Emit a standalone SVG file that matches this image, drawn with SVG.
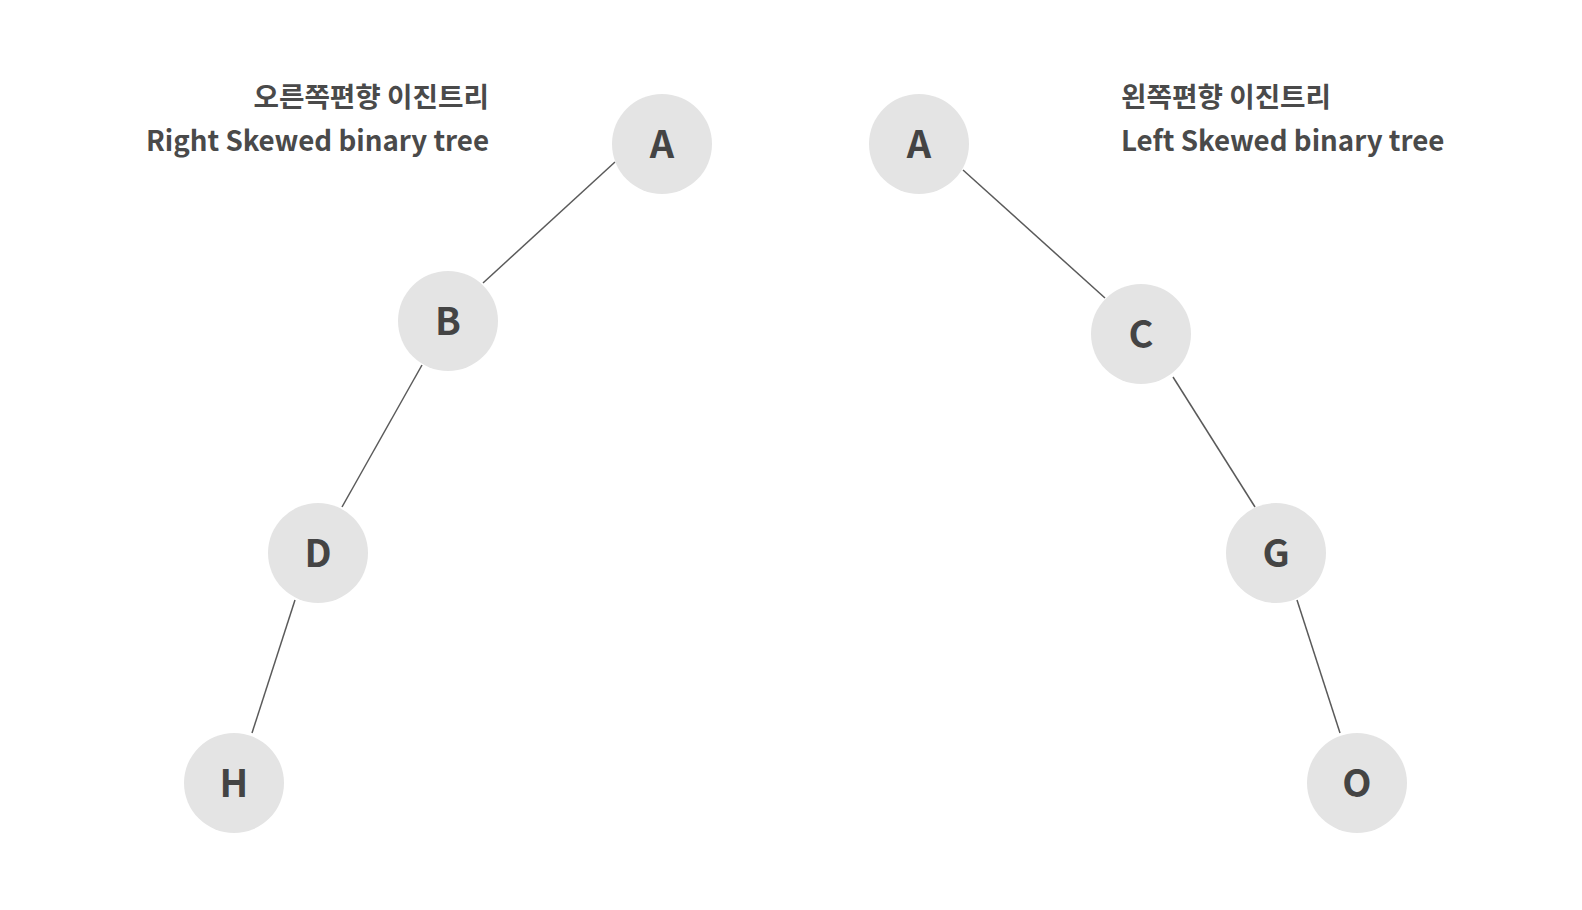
<svg xmlns="http://www.w3.org/2000/svg" width="1582" height="910" viewBox="0 0 1582 910">
<style>
.n{fill:#e4e4e4}
.t{font-family:"Noto Sans CJK KR","Noto Sans",sans-serif;font-weight:bold;fill:#444;font-size:38px;text-anchor:middle;dominant-baseline:central}
.h{font-family:"Noto Sans CJK KR","Noto Sans",sans-serif;font-weight:bold;fill:#4a4a4a;font-size:27.7px}
.e line{stroke:#5a5a5a;stroke-width:1.5}
</style>
<rect width="1582" height="910" fill="#fff"/>
<g id="titles">
<text class="h" x="489" y="107" text-anchor="end">오른쪽편향 이진트리</text>
<text class="h" x="489" y="151" text-anchor="end">Right Skewed binary tree</text>
<text class="h" x="1121" y="107">왼쪽편향 이진트리</text>
<text class="h" x="1121" y="151">Left Skewed binary tree</text>
</g>
<g id="edges" class="e">
<line x1="615" y1="162" x2="483" y2="283"/>
<line x1="422" y1="365" x2="342" y2="507"/>
<line x1="295" y1="600" x2="252" y2="733"/>
<line x1="963" y1="170" x2="1105" y2="298"/>
<line x1="1173" y1="377" x2="1255" y2="507"/>
<line x1="1297" y1="600" x2="1340" y2="733"/>
</g>
<g id="nodeA1"><circle class="n" cx="662" cy="144" r="50"/><text class="t" x="662" y="141">A</text></g>
<g id="nodeB"><circle class="n" cx="448" cy="321" r="50"/><text class="t" x="448" y="318">B</text></g>
<g id="nodeD"><circle class="n" cx="318" cy="553" r="50"/><text class="t" x="318" y="550">D</text></g>
<g id="nodeH"><circle class="n" cx="234" cy="783" r="50"/><text class="t" x="234" y="780">H</text></g>
<g id="nodeA2"><circle class="n" cx="919" cy="144" r="50"/><text class="t" x="919" y="141">A</text></g>
<g id="nodeC"><circle class="n" cx="1141" cy="334" r="50"/><text class="t" x="1141" y="331">C</text></g>
<g id="nodeG"><circle class="n" cx="1276" cy="553" r="50"/><text class="t" x="1276" y="550">G</text></g>
<g id="nodeO"><circle class="n" cx="1357" cy="783" r="50"/><text class="t" x="1357" y="780">O</text></g>
</svg>
